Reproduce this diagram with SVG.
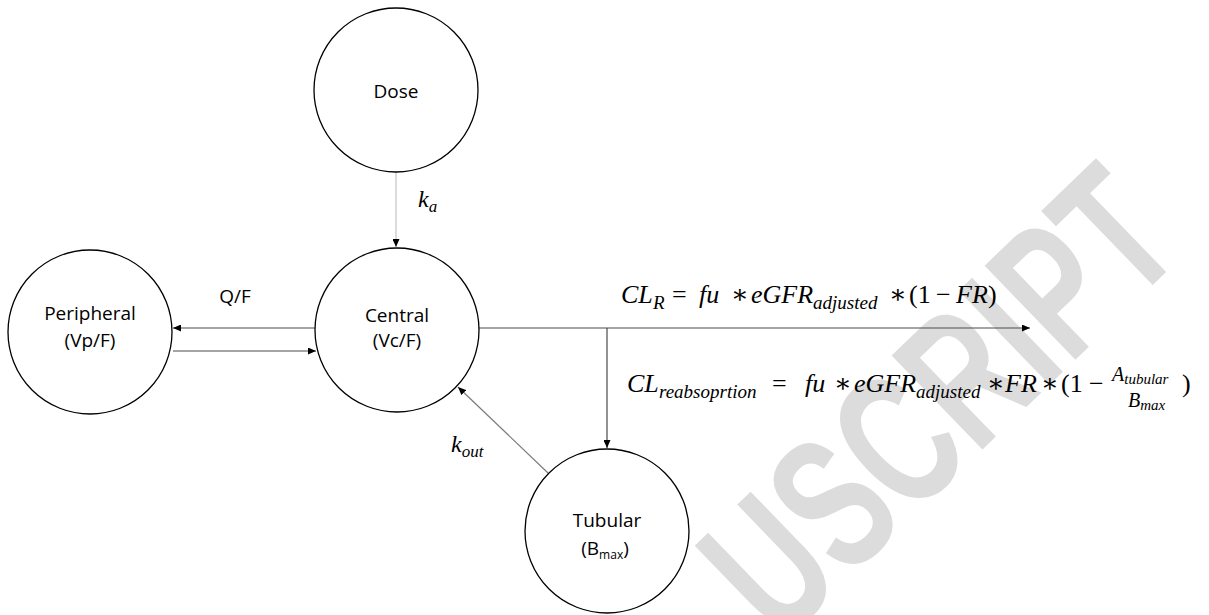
<svg xmlns="http://www.w3.org/2000/svg" width="1209" height="615" viewBox="0 0 1209 615">
<style>
.node circle{fill:#fff;stroke:#000;stroke-width:1.3}
.lbl{font-family:"Open Sans","Liberation Sans",sans-serif;font-size:19px;text-anchor:middle;fill:#000}
.sub{font-size:12px}
.m{font-family:"Liberation Serif","DejaVu Serif",serif;font-style:italic;font-size:26px;fill:#000}
.ms{font-family:"Liberation Serif","DejaVu Serif",serif;font-style:italic;font-size:19px;fill:#000}
.mt{font-family:"Liberation Serif","DejaVu Serif",serif;font-style:italic;font-size:15px;fill:#000}
.mr{font-family:"Liberation Serif","DejaVu Serif",serif;font-style:normal;font-size:26px;fill:#000}
.conn line{stroke:#4a4a4a;stroke-width:1.2;fill:none}
.wm{font-family:"Liberation Sans",sans-serif;font-weight:bold;font-size:190px;fill:#dcdcdc}
</style>
<defs>
<marker id="ah" viewBox="0 0 8 7" refX="8" refY="3.5" markerWidth="8" markerHeight="7" markerUnits="userSpaceOnUse" orient="auto">
<path d="M0,0 L8,3.5 L0,7 z" fill="#000"/>
</marker>
</defs>
<rect width="1209" height="615" fill="#fff"/>
<g id="watermark">
<text class="wm" transform="translate(780,645) rotate(-44) scale(0.68,1)">USCRIPT</text>
</g>
<g id="connectors" class="conn">
<line x1="396" y1="172" x2="396" y2="247" style="stroke:#c4c4c4" marker-end="url(#ah)"/>
<line x1="315" y1="328" x2="173" y2="328" marker-end="url(#ah)"/>
<line x1="173" y1="351" x2="316" y2="351" marker-end="url(#ah)"/>
<line x1="479" y1="328" x2="1030" y2="328" marker-end="url(#ah)"/>
<line x1="607" y1="328" x2="607" y2="448" marker-end="url(#ah)"/>
<line x1="548" y1="473" x2="458" y2="387" style="stroke:#7a7a7a" marker-end="url(#ah)"/>
</g>
<g id="dose" class="node">
<circle cx="396" cy="90" r="82"/>
<text class="lbl" x="396" y="98">Dose</text>
</g>
<g id="peripheral" class="node">
<circle cx="90" cy="332" r="82"/>
<text class="lbl" x="90" y="320">Peripheral</text>
<text class="lbl" x="90" y="347">(Vp/F)</text>
</g>
<g id="central" class="node">
<circle cx="397" cy="330" r="82"/>
<text class="lbl" x="397" y="322">Central</text>
<text class="lbl" x="397" y="347">(Vc/F)</text>
</g>
<g id="tubular" class="node">
<circle cx="607" cy="531" r="82"/>
<text class="lbl" x="607" y="527">Tubular</text>
<text class="lbl" x="605" y="555">(B<tspan class="sub" dy="4">max</tspan><tspan dy="-4">)</tspan></text>
</g>
<g id="labels">
<text class="lbl" x="235" y="303">Q/F</text>
<text class="m" x="418" y="207" style="font-size:24px">k<tspan class="ms" dy="5" style="font-size:17px">a</tspan></text>
<text class="m" x="451" y="452" style="font-size:24px">k<tspan class="ms" dy="5" style="font-size:17px">out</tspan></text>
</g>
<g id="formula-clr">
<text class="m" x="621" y="303">CL</text>
<text class="ms" x="653" y="309">R</text>
<text class="mr" x="672" y="303">=</text>
<text class="m" x="699" y="303">fu</text>
<text class="mr" x="731" y="303">∗</text>
<text class="m" x="751" y="303">eGFR</text>
<text class="ms" x="813" y="309">adjusted</text>
<text class="mr" x="889" y="303">∗</text>
<text class="mr" x="909" y="303">(1</text>
<text class="mr" x="936" y="303">−</text>
<text class="m" x="956" y="303">FR</text>
<text class="mr" x="988" y="303">)</text>
</g>
<g id="formula-clreab">
<text class="m" x="627" y="392">CL</text>
<text class="ms" x="659" y="398">reabsoprtion</text>
<text class="mr" x="772" y="392">=</text>
<text class="m" x="805" y="392">fu</text>
<text class="mr" x="834" y="392">∗</text>
<text class="m" x="854" y="392">eGFR</text>
<text class="ms" x="916" y="398">adjusted</text>
<text class="mr" x="987" y="392">∗</text>
<text class="m" x="1005" y="392">FR</text>
<text class="mr" x="1041" y="392">∗</text>
<text class="mr" x="1061" y="392">(1</text>
<text class="mr" x="1089" y="392">−</text>
<text class="ms" x="1112" y="381" style="font-size:20px">A<tspan class="mt" dy="3">tubular</tspan></text>
<text class="ms" x="1128" y="407" style="font-size:20px">B<tspan class="mt" dy="3">max</tspan></text>
<text class="mr" x="1182" y="392">)</text>
</g>
</svg>
